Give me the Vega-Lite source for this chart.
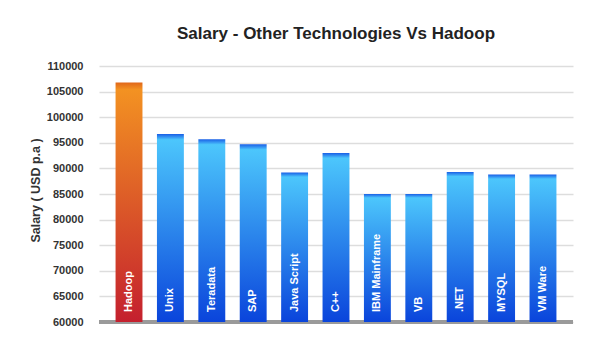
{
  "$schema": "https://vega.github.io/schema/vega-lite/v6.json",
  "width": 474,
  "height": 256,
  "autosize": {"type": "none"},
  "padding": {"left": 99, "top": 66, "right": 27, "bottom": 35},
  "background": "white",
  "title": {
    "text": "Salary - Other Technologies Vs Hadoop",
    "font": "Liberation Sans",
    "fontSize": 17,
    "fontWeight": "bold",
    "color": "#222222",
    "anchor": "middle",
    "offset": 17
  },
  "config": {
    "view": {"stroke": null},
    "font": "Liberation Sans",
    "axis": {"labelOverlap": false}
  },
  "data": {
    "values": [
      {"tech": "Hadoop", "salary": 106800, "group": "Hadoop"},
      {"tech": "Unix", "salary": 96700, "group": "Other"},
      {"tech": "Teradata", "salary": 95700, "group": "Other"},
      {"tech": "SAP", "salary": 94700, "group": "Other"},
      {"tech": "Java Script", "salary": 89200, "group": "Other"},
      {"tech": "C++", "salary": 93000, "group": "Other"},
      {"tech": "IBM Mainframe", "salary": 85000, "group": "Other"},
      {"tech": "VB", "salary": 85000, "group": "Other"},
      {"tech": ".NET", "salary": 89300, "group": "Other"},
      {"tech": "MYSQL", "salary": 88800, "group": "Other"},
      {"tech": "VM Ware", "salary": 88800, "group": "Other"}
    ]
  },
  "encoding": {
    "x": {
      "field": "tech",
      "type": "nominal",
      "sort": ["Hadoop", "Unix", "Teradata", "SAP", "Java Script", "C++", "IBM Mainframe", "VB", ".NET", "MYSQL", "VM Ware"],
      "scale": {"paddingInner": 0.35, "paddingOuter": 0.4},
      "axis": null
    },
    "y": {
      "field": "salary",
      "type": "quantitative",
      "scale": {"domain": [60000, 110000], "zero": false, "nice": false},
      "axis": {
        "title": "Salary ( USD p.a )",
        "titleFont": "Liberation Sans",
        "titleFontSize": 12.5,
        "titleFontWeight": "bold",
        "titleColor": "#333333",
        "titleX": -57,
        "titleY": 124,
        "values": [60000, 65000, 70000, 75000, 80000, 85000, 90000, 95000, 100000, 105000, 110000],
        "format": "d",
        "labelOverlap": false,
        "labelFont": "Liberation Sans",
        "labelFontSize": 11,
        "labelFontWeight": "bold",
        "labelColor": "#333333",
        "labelPadding": 16,
        "ticks": false,
        "domain": false,
        "grid": true,
        "gridColor": "#dddddd",
        "gridWidth": 1.5
      }
    }
  },
  "layer": [
    {
      "mark": {"type": "rule", "color": "#9a9a9a", "strokeWidth": 4},
      "encoding": {"y": {"datum": 60000, "type": "quantitative"}, "x": null}
    },
    {
      "transform": [{"filter": "datum.group === 'Other'"}],
      "mark": {
        "type": "bar",
        "color": {
          "gradient": "linear",
          "x1": 0, "y1": 0, "x2": 0, "y2": 1,
          "stops": [
            {"offset": 0, "color": "#1a5fe6"},
            {"offset": 0.03, "color": "#4cc6fc"},
            {"offset": 1, "color": "#0a44db"}
          ]
        }
      },
      "encoding": {
        "y2": {"datum": 60000}
      }
    },
    {
      "transform": [{"filter": "datum.group === 'Hadoop'"}],
      "mark": {
        "type": "bar",
        "color": {
          "gradient": "linear",
          "x1": 0, "y1": 0, "x2": 0, "y2": 1,
          "stops": [
            {"offset": 0, "color": "#e0661a"},
            {"offset": 0.03, "color": "#f39222"},
            {"offset": 1, "color": "#c4202e"}
          ]
        }
      },
      "encoding": {
        "y2": {"datum": 60000}
      }
    },
    {
      "mark": {
        "type": "text",
        "angle": 270,
        "align": "left",
        "baseline": "middle",
        "dx": 10,
        "color": "white",
        "font": "Liberation Sans",
        "fontSize": 11,
        "fontWeight": "bold"
      },
      "encoding": {
        "y": {"datum": 60000, "type": "quantitative"},
        "text": {"field": "tech"}
      }
    }
  ]
}
